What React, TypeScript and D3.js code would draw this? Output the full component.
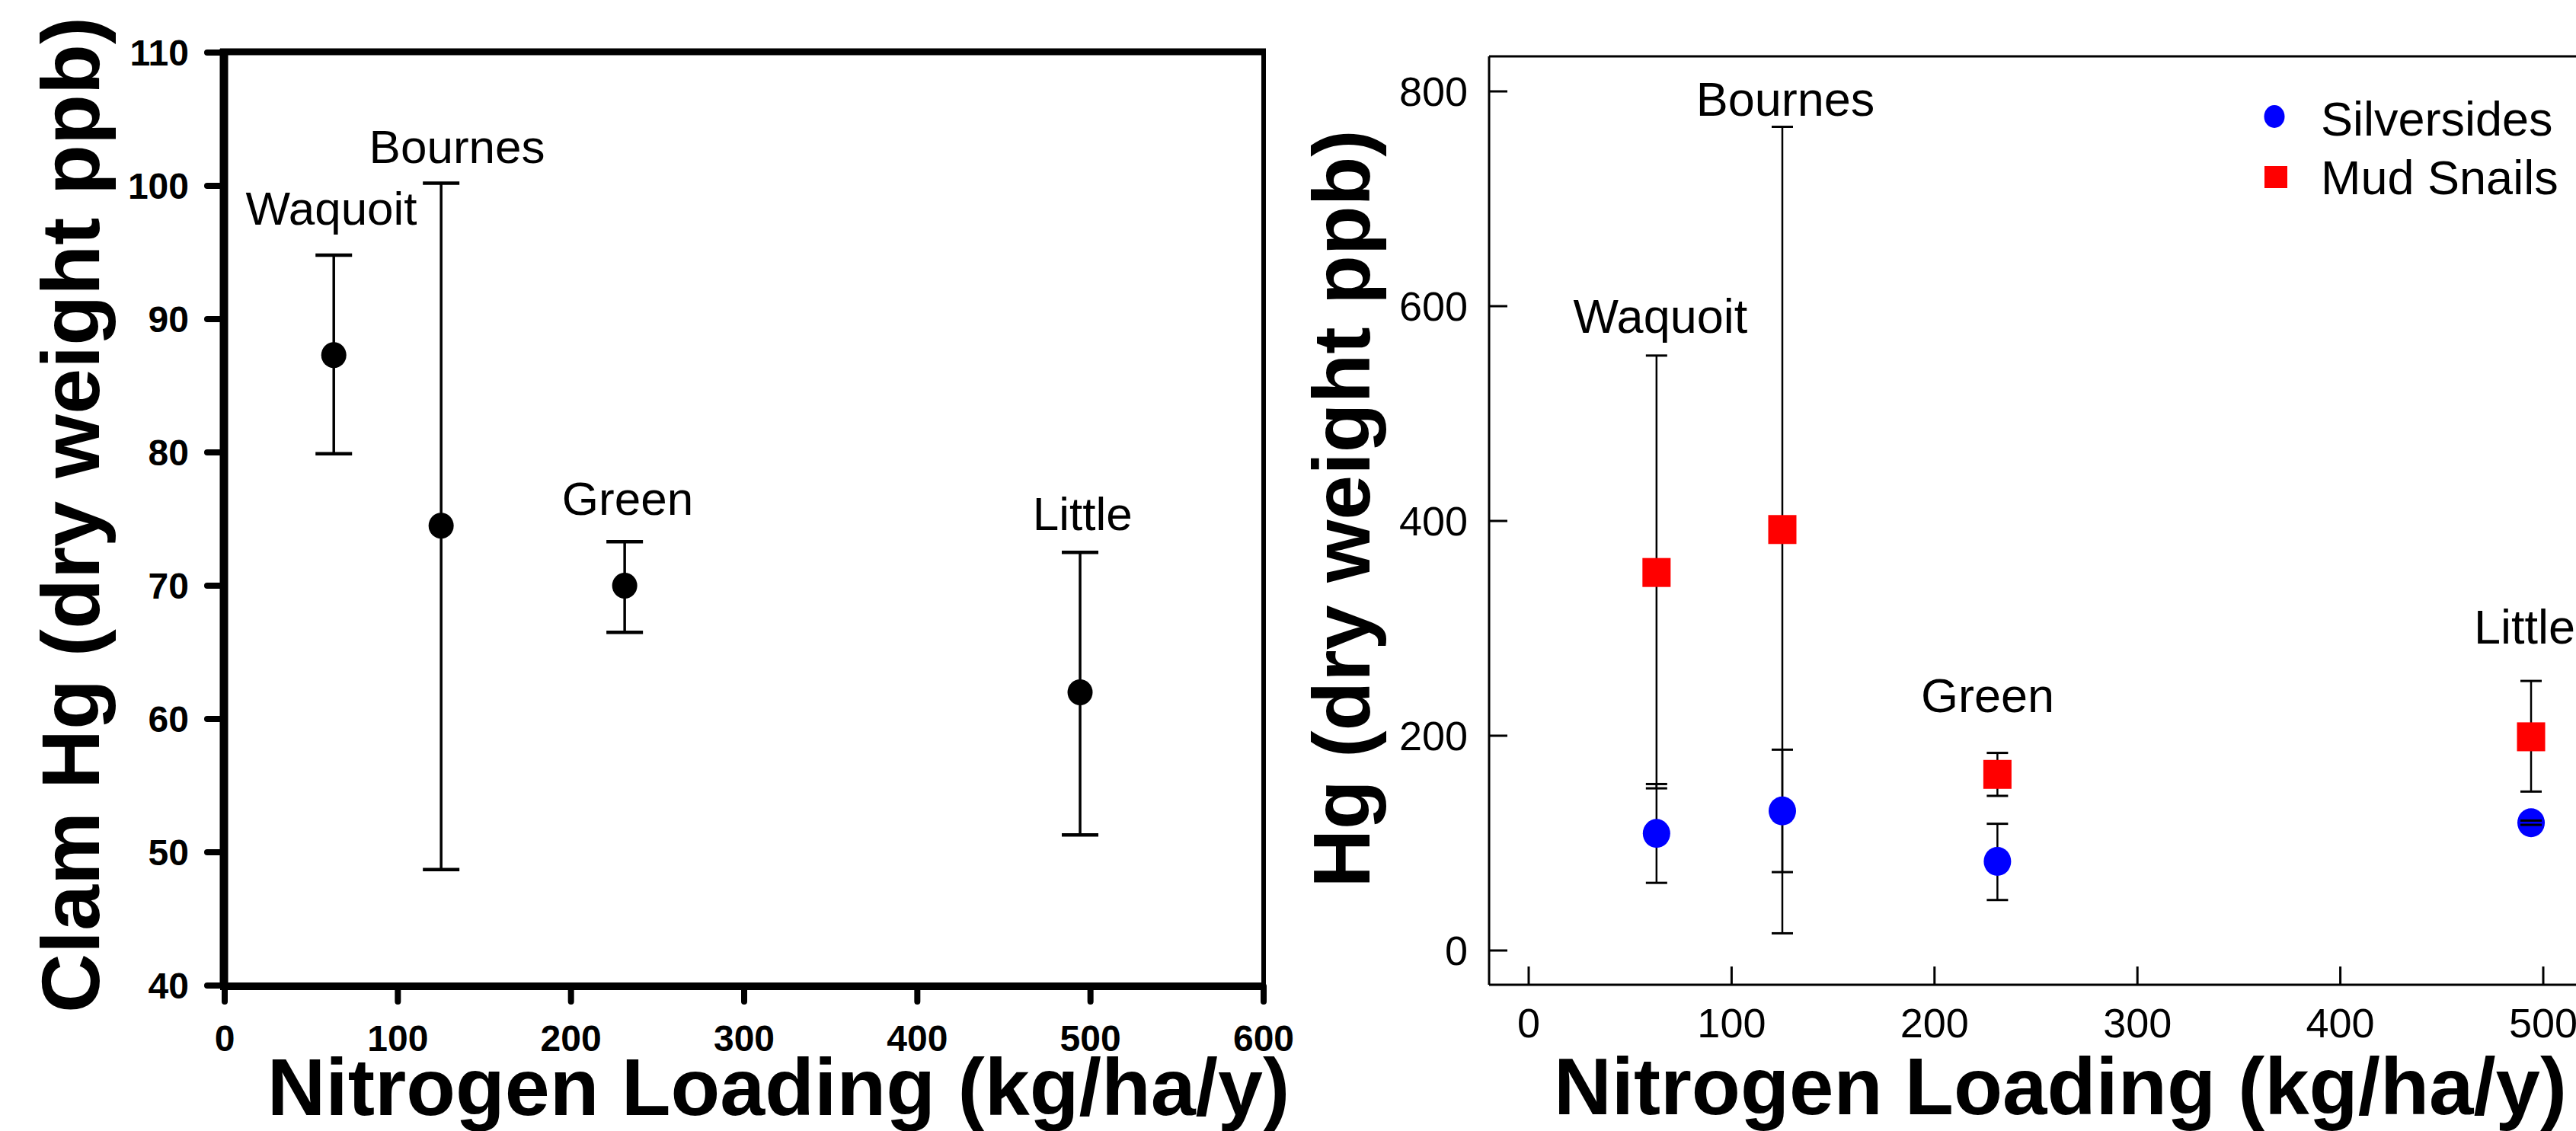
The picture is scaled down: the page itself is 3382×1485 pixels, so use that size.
import React from "react";
import * as d3 from "d3";

// ---------- data ----------
const sites = ["Waquoit", "Bournes", "Green", "Little"];
const nitrogen = [63, 125, 231, 494];

// left panel: clam Hg
const clamMean = [87.3, 74.5, 70.0, 62.0];
const clamUpper = [94.8, 100.2, 73.3, 72.5];
const clamLower = [79.9, 48.7, 66.5, 51.3];
// label anchor positions (data units) for left panel
const clamLabelX = [61.6, 134.2, 232.7, 495.4];
const clamLabelY = [97.1, 101.7, 75.3, 74.2];

// right panel: silversides and mud snails
const silvMean = [109, 130, 83, 119];
const silvUpper = [155, 187, 118, 121];
const silvLower = [63, 73, 47, 117];
const snailMean = [352, 392, 164, 199];
const snailUpper = [554, 767, 184, 251];
const snailLower = [151, 16, 144, 148];
const rightLabelX = [64.9, 126.5, 226.2, 490.8];
const rightLabelY = [575, 777, 222, 286];

const leftYTicks = [40, 50, 60, 70, 80, 90, 100, 110];
const leftXTicks = [0, 100, 200, 300, 400, 500, 600];
const rightYTicks = [0, 200, 400, 600, 800];
const rightXTicks = [0, 100, 200, 300, 400, 500];

const legendItems = ["Silversides", "Mud Snails"];

const FONT = "'Liberation Sans', Arial, Helvetica, sans-serif";

export default function App() {
  // left scales
  const xL = d3.scaleLinear().domain([0, 600]).range([295, 1659]);
  const yL = d3.scaleLinear().domain([40, 110]).range([1294, 69]);
  // right scales
  const xR = d3.scaleLinear().domain([0, 500]).range([2007, 3339]);
  const yR = d3.scaleLinear().domain([0, 800]).range([1248, 120]);

  const leftAxisX = 294;
  const leftBottomY = 1295;
  const leftTopY = 68;
  const leftRightX = 1659;

  const rAxisX = 1955;
  const rBottomY = 1293;
  const rTopY = 74;
  const rRightX = 3382;

  return (
    <div style={{ position: "absolute", left: 0, top: 0 }}>
      <svg width={3382} height={1485} style={{ display: "block", background: "#fff" }} fontFamily={FONT}>
        <rect x={0} y={0} width={3382} height={1485} fill="#fff" />

        {/* ================= LEFT PANEL ================= */}
        <g>
          {/* frame */}
          <line x1={leftAxisX - 5} x2={leftRightX + 3} y1={leftTopY} y2={leftTopY} stroke="#000" strokeWidth={9} />
          <line x1={leftRightX} x2={leftRightX} y1={leftTopY} y2={leftBottomY} stroke="#000" strokeWidth={6} />
          <line x1={leftAxisX - 5} x2={leftRightX + 3} y1={leftBottomY} y2={leftBottomY} stroke="#000" strokeWidth={10} />
          <line x1={leftAxisX} x2={leftAxisX} y1={leftTopY - 4} y2={leftBottomY} stroke="#000" strokeWidth={11} />
          {/* y ticks */}
          {leftYTicks.map((t) => (
            <g key={"ly" + t}>
              <line x1={272} x2={leftAxisX} y1={yL(t)} y2={yL(t)} stroke="#000" strokeWidth={8} strokeLinecap="round" />
              <text x={248} y={yL(t)} dy="0.36em" textAnchor="end" fontSize={48} fontWeight="bold">
                {t}
              </text>
            </g>
          ))}
          {/* x ticks */}
          {leftXTicks.map((t) => (
            <g key={"lx" + t}>
              <line x1={xL(t)} x2={xL(t)} y1={leftBottomY} y2={1315} stroke="#000" strokeWidth={8} strokeLinecap="round" />
              <text x={xL(t)} y={1380} textAnchor="middle" fontSize={48} fontWeight="bold">
                {t}
              </text>
            </g>
          ))}
          {/* error bars */}
          {sites.map((s, i) => (
            <g key={"le" + s} stroke="#000" strokeWidth={3.5}>
              <line x1={xL(nitrogen[i])} x2={xL(nitrogen[i])} y1={yL(clamUpper[i])} y2={yL(clamLower[i])} />
              <line x1={xL(nitrogen[i]) - 24} x2={xL(nitrogen[i]) + 24} y1={yL(clamUpper[i])} y2={yL(clamUpper[i])} strokeWidth={4.5} />
              <line x1={xL(nitrogen[i]) - 24} x2={xL(nitrogen[i]) + 24} y1={yL(clamLower[i])} y2={yL(clamLower[i])} strokeWidth={4.5} />
            </g>
          ))}
          {/* points */}
          {sites.map((s, i) => (
            <ellipse key={"lp" + s} cx={xL(nitrogen[i])} cy={yL(clamMean[i])} rx={16.5} ry={17} fill="#000" />
          ))}
          {/* site labels */}
          {sites.map((s, i) => (
            <text key={"ll" + s} x={xL(clamLabelX[i])} y={yL(clamLabelY[i])} textAnchor="middle" fontSize={62}>
              {s}
            </text>
          ))}
          {/* axis titles */}
          <text x={1022} y={1464} textAnchor="middle" fontSize={106} fontWeight="bold">
            Nitrogen Loading (kg/ha/y)
          </text>
          <text transform="translate(130,676) rotate(-90)" textAnchor="middle" fontSize={108} fontWeight="bold">
            Clam Hg (dry weight ppb)
          </text>
        </g>

        {/* ================= RIGHT PANEL ================= */}
        <g>
          <line x1={rAxisX} x2={rRightX} y1={rTopY} y2={rTopY} stroke="#000" strokeWidth={3} />
          <line x1={rAxisX} x2={rRightX} y1={rBottomY} y2={rBottomY} stroke="#000" strokeWidth={3} />
          <line x1={rAxisX} x2={rAxisX} y1={rTopY} y2={rBottomY} stroke="#000" strokeWidth={3} />
          {rightYTicks.map((t) => (
            <g key={"ry" + t}>
              <line x1={rAxisX} x2={rAxisX + 24} y1={yR(t)} y2={yR(t)} stroke="#000" strokeWidth={3} />
              <text x={1927} y={yR(t)} dy="0.36em" textAnchor="end" fontSize={54}>
                {t}
              </text>
            </g>
          ))}
          {rightXTicks.map((t) => (
            <g key={"rx" + t}>
              <line x1={xR(t)} x2={xR(t)} y1={rBottomY} y2={rBottomY - 24} stroke="#000" strokeWidth={3} />
              <text x={xR(t)} y={1362} textAnchor="middle" fontSize={54}>
                {t}
              </text>
            </g>
          ))}
          {/* error bar stems */}
          {sites.map((s, i) => (
            <g key={"rs" + s} stroke="#000" strokeWidth={2.5}>
              <line x1={xR(nitrogen[i])} x2={xR(nitrogen[i])} y1={yR(snailUpper[i])} y2={yR(snailLower[i])} />
              <line x1={xR(nitrogen[i])} x2={xR(nitrogen[i])} y1={yR(silvUpper[i])} y2={yR(silvLower[i])} />
            </g>
          ))}
          {/* markers */}
          {sites.map((s, i) => (
            <rect key={"rm" + s} x={xR(nitrogen[i]) - 18.5} y={yR(snailMean[i]) - 19} width={37} height={38} fill="#ff0000" />
          ))}
          {sites.map((s, i) => (
            <ellipse key={"rc" + s} cx={xR(nitrogen[i])} cy={yR(silvMean[i])} rx={18} ry={19} fill="#0000ff" />
          ))}
          {/* caps */}
          {sites.map((s, i) => (
            <g key={"rcap" + s} stroke="#000" strokeWidth={3}>
              {[snailUpper[i], snailLower[i], silvUpper[i], silvLower[i]].map((v, j) => (
                <line key={j} x1={xR(nitrogen[i]) - 14} x2={xR(nitrogen[i]) + 14} y1={yR(v)} y2={yR(v)} />
              ))}
            </g>
          ))}
          {/* site labels */}
          {sites.map((s, i) => (
            <text key={"rl" + s} x={xR(rightLabelX[i])} y={yR(rightLabelY[i])} textAnchor="middle" fontSize={63}>
              {s}
            </text>
          ))}
          {/* legend */}
          <ellipse cx={2986} cy={153} rx={13.5} ry={15} fill="#0000ff" />
          <rect x={2973} y={218} width={30} height={29} fill="#ff0000" />
          <text x={3047} y={178} fontSize={63}>
            {legendItems[0]}
          </text>
          <text x={3047} y={255} fontSize={63}>
            {legendItems[1]}
          </text>
          {/* titles */}
          <text x={2705} y={1463} textAnchor="middle" fontSize={105} fontWeight="bold">
            Nitrogen Loading (kg/ha/y)
          </text>
          <text transform="translate(1798,668) rotate(-90)" textAnchor="middle" fontSize={106} fontWeight="bold">
            Hg (dry weight ppb)
          </text>
        </g>
      </svg>
    </div>
  );
}
